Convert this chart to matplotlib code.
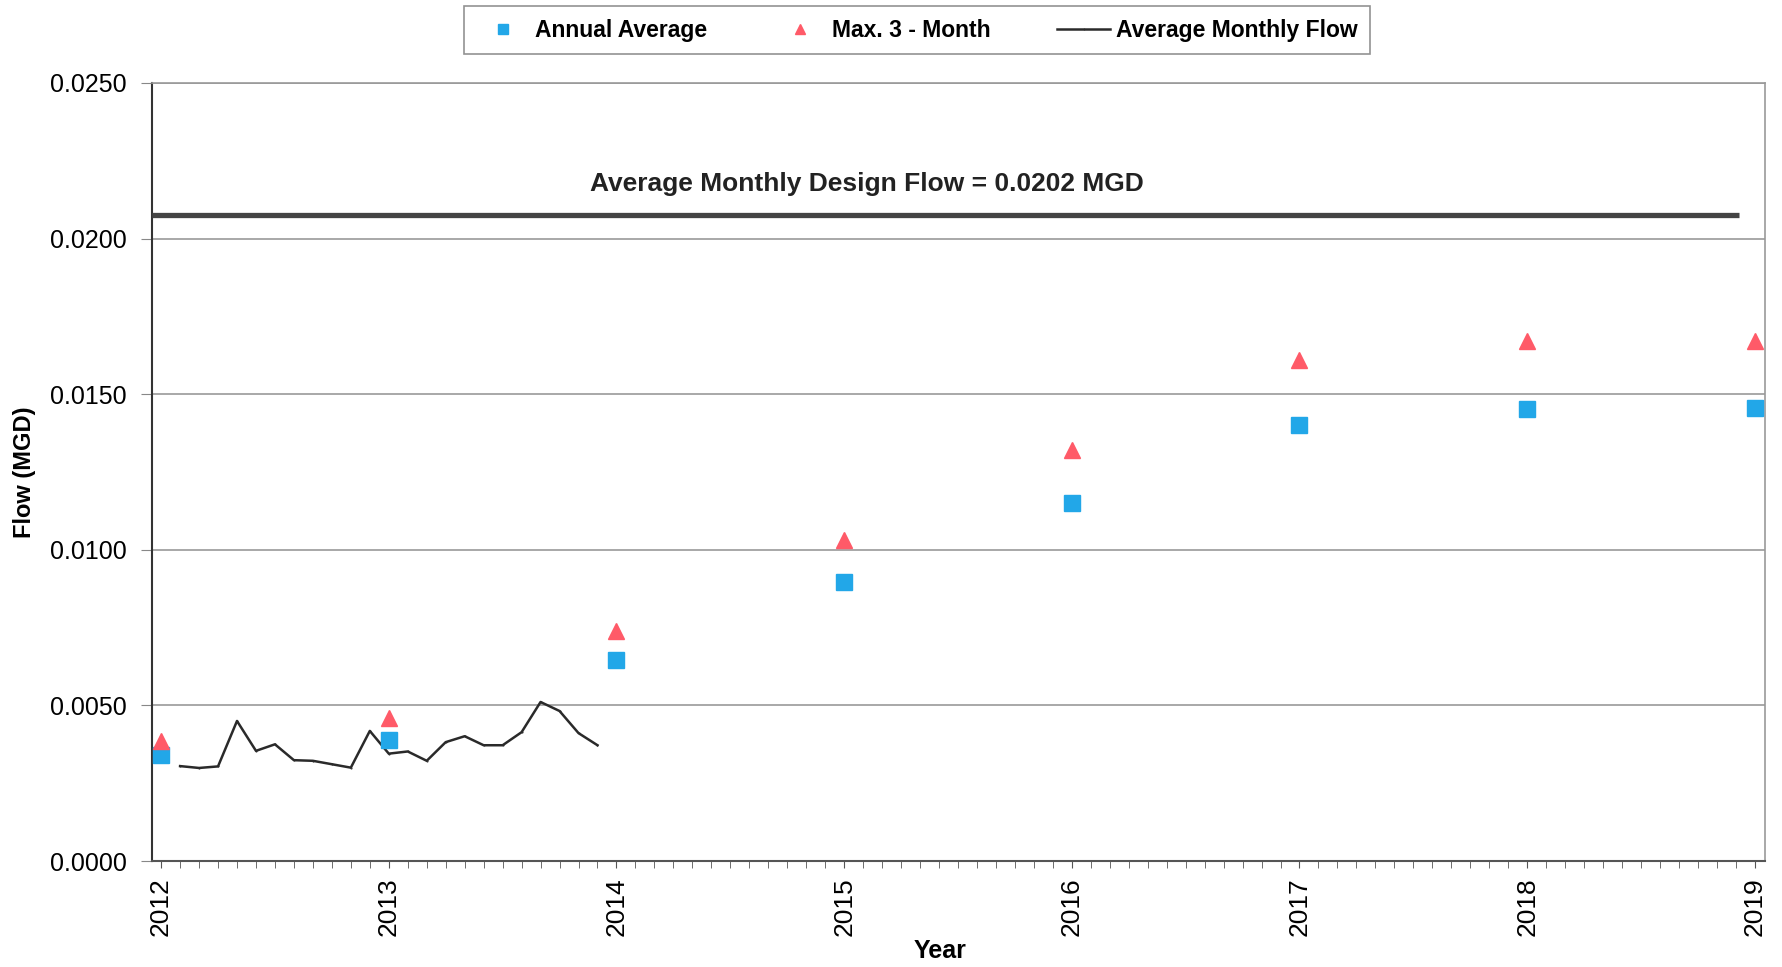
import numpy as np
import matplotlib
matplotlib.use("Agg")
import matplotlib.pyplot as plt
from matplotlib.ticker import MultipleLocator, FormatStrFormatter

plt.rcParams['font.family'] = ['Liberation Sans', 'DejaVu Sans']

years = [2012, 2013, 2014, 2015, 2016, 2017, 2018, 2019]
annual_avg = [0.0034, 0.0039, 0.00646, 0.00898, 0.0115, 0.0140, 0.01453, 0.01456]
max_3_month = [0.00385, 0.00458, 0.0074, 0.0103, 0.0132, 0.0161, 0.0167, 0.0167]

# monthly flow, Feb 2012 .. Dec 2013
monthly_flow = [0.00305, 0.00299, 0.00304, 0.00450, 0.00354, 0.00375, 0.00324,
                0.00322, 0.00311, 0.00300, 0.00418, 0.00345, 0.00352, 0.00322,
                0.00382, 0.00401, 0.00372, 0.00372, 0.00414, 0.00511, 0.00482,
                0.00411, 0.00372]
monthly_x = [2012 + (i + 1) / 12 for i in range(len(monthly_flow))]

design_flow_line = 0.02077
design_x = [2011.96, 2018.93]

fig = plt.figure(figsize=(17.82, 9.67), dpi=100)
ax = fig.add_axes([0.0853, 0.1096, 0.9052, 0.8046])

ax.plot(design_x, [design_flow_line, design_flow_line], color='#444444', lw=3.8,
        solid_capstyle='butt', zorder=3, clip_on=False)
ax.text(2015.1, 0.02176, 'Average Monthly Design Flow = 0.0202 MGD', fontsize=19,
        fontweight='bold', ha='center', va='center', color='#222222')

ax.plot(years, annual_avg, ls='none', marker='s', ms=11, color='#22A7E8',
        label='Annual Average', zorder=4, clip_on=False)
ax.plot(years, max_3_month, ls='none', marker='^', ms=12, color='#FF5A68',
        label='Max. 3 - Month', zorder=4, clip_on=False)
ax.plot(monthly_x, monthly_flow, color='#2a2a2a', lw=1.8, marker='.', ms=1,
        label='Average Monthly Flow', zorder=3)

ax.set_xlim(2011.96, 2019.045)
ax.set_ylim(0, 0.025)
ax.set_xticks(years)
ax.set_xticklabels([str(y) for y in years], rotation=90, fontsize=19)
ax.xaxis.set_minor_locator(MultipleLocator(1 / 12))
ax.yaxis.set_major_locator(MultipleLocator(0.005))
ax.yaxis.set_major_formatter(FormatStrFormatter('%.4f'))
ax.tick_params(axis='y', labelsize=18, length=8, pad=10, color='#888888')
ax.tick_params(axis='x', which='major', length=5, pad=7, color='#555555')
ax.tick_params(axis='x', which='minor', length=5, color='#555555')

ax.grid(axis='y', color='#999999', lw=1.2)
ax.set_axisbelow(True)
for s in ['top', 'right']:
    ax.spines[s].set_color('#999999')
    ax.spines[s].set_linewidth(1.2)
ax.spines['left'].set_color('#333333')
ax.spines['bottom'].set_color('#555555')
ax.spines['left'].set_linewidth(1.5)
ax.spines['bottom'].set_linewidth(1.5)

ax.set_xlabel('Year', fontsize=18, fontweight='bold')
ax.xaxis.set_label_coords(0.4885, -0.100)
ax.set_ylabel('Flow (MGD)', fontsize=17, fontweight='bold', labelpad=10)

leg = fig.legend(loc='upper center', bbox_to_anchor=(0.5146, 0.9938), ncol=3,
                 frameon=True, fancybox=False, edgecolor='#777777',
                 prop={'weight': 'bold', 'size': 16.5}, handlelength=2.3,
                 handletextpad=0.25, columnspacing=2.9, borderpad=0.55,
                 markerscale=0.65, borderaxespad=0)
leg.get_frame().set_linewidth(1.2)

fig.savefig('out.png', dpi=100)
